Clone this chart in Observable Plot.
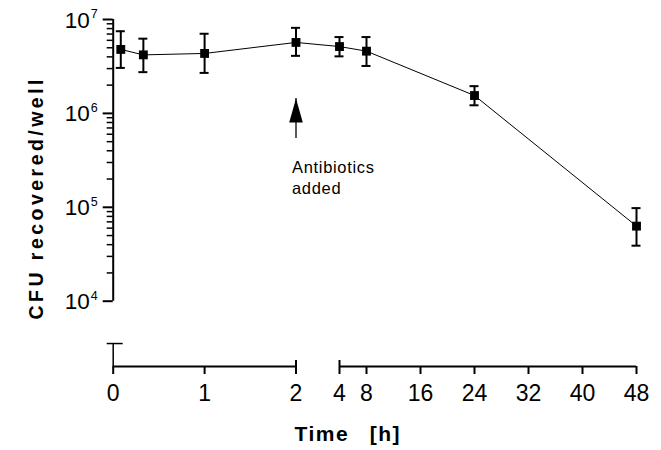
<!DOCTYPE html>
<html>
<head>
<meta charset="utf-8">
<script src="https://cdn.jsdelivr.net/npm/d3@7"></script>
<script src="https://cdn.jsdelivr.net/npm/@observablehq/plot@0.6"></script>
<style>
  html, body { margin: 0; padding: 0; background: #fff; }
  #chart svg { display: block; }
</style>
</head>
<body>
<div id="chart"></div>
<script>
// ---- data ----
const times   = [0.083, 0.33, 1, 2, 4, 8, 24, 48];            // h
const cfu     = [4.8e6, 4.2e6, 4.35e6, 5.7e6, 5.15e6, 4.6e6, 1.55e6, 6.3e4];
const cfuHigh = [7.5e6, 6.25e6, 7.05e6, 8.15e6, 6.5e6, 6.5e6, 1.95e6, 9.8e4];
const cfuLow  = [3.05e6, 2.75e6, 2.7e6, 4.1e6, 4.05e6, 3.2e6, 1.22e6, 3.9e4];

const xTicks     = [0, 1, 2, 4, 8, 16, 24, 32, 40, 48];
const xTickText  = ["0", "1", "2", "4", "8", "16", "24", "32", "40", "48"];
const xBreakEnds = [2, 4];
const xSegments  = [[0, 2], [4, 48]];

const yMajor     = [1e4, 1e5, 1e6, 1e7];
const yExponents = ["4", "5", "6", "7"];
const yMinorMult = [2, 3, 4, 5, 6, 7, 8, 9];
const yDecades   = [1e4, 1e5, 1e6];

const yFloor   = 2016;   // level of the x axis (below the broken y axis)
const yStubTop = 3540;   // top of the lower y-axis stub

const noteX = 2, noteTip = 1.44e6, noteTail = 5.4e5;
const noteText = "Antibiotics\nadded";
const xTitle = "Time\u00a0\u00a0\u2009[h]";
const yTitle = "CFU recovered/well";

// ---- tables built from the arrays ----
const data = times.map((t, i) => ({t, cfu: cfu[i], hi: cfuHigh[i], lo: cfuLow[i]}));
const yMinor = yDecades.flatMap(d => yMinorMult.map(m => d * m));
const note = [{x: noteX, tip: noteTip, tail: noteTail, label: noteText}];

const arrowHead = {
  draw(ctx) {
    ctx.moveTo(0, 0);
    ctx.lineTo(6.8, 24);
    ctx.lineTo(-6.8, 24);
    ctx.closePath();
  }
};

const font = "'Liberation Sans', Arial, Helvetica, sans-serif";

const chart = Plot.plot({
  width: 661,
  height: 450,
  marginTop: 19,
  marginBottom: 84,
  marginLeft: 113,
  marginRight: 25,
  style: {fontFamily: font, color: "#000", background: "#fff"},
  x: {type: "linear", domain: [0, 2, 4, 48], range: [112.7, 295.5, 339, 636], axis: null},
  y: {type: "log", domain: [yFloor, 1e7], axis: null},
  marks: [
    // y axis (upper part)
    Plot.ruleX([0], {x: d => d, y1: 1e4, y2: 1e7, stroke: "#000", strokeWidth: 2}),
    Plot.ruleY(yMajor, {y: d => d, x1: 0, x2: 0, insetLeft: -10, stroke: "#000", strokeWidth: 2}),
    Plot.ruleY(yMinor, {y: d => d, x1: 0, x2: 0, insetLeft: -6, stroke: "#000", strokeWidth: 1.5}),
    Plot.text(yMajor, {x: 0, y: d => d, text: () => "10", textAnchor: "end", lineAnchor: "bottom",
      dx: -23.5, dy: 8, fontSize: 22.5, fill: "#000"}),
    Plot.text(yMajor, {x: 0, y: d => d, text: (d, i) => yExponents[i], textAnchor: "start", lineAnchor: "bottom",
      dx: -22.5, dy: -1.5, fontSize: 12.5, fill: "#000"}),
    // y axis lower stub
    Plot.ruleX([0], {x: d => d, y1: yFloor, y2: yStubTop, stroke: "#000", strokeWidth: 1.5}),
    Plot.ruleY([yStubTop], {y: d => d, x1: 0, x2: 0, insetLeft: -6, insetRight: -10, stroke: "#000", strokeWidth: 1.5}),
    // x axis (broken)
    Plot.ruleY(xSegments, {y: yFloor, x1: d => d[0], x2: d => d[1], stroke: "#000", strokeWidth: 2}),
    Plot.ruleX(xTicks, {x: d => d, y1: yFloor, y2: yFloor, insetBottom: -8, stroke: "#000", strokeWidth: 2}),
    Plot.ruleX(xBreakEnds, {x: d => d, y1: yFloor, y2: yFloor, insetTop: -6, stroke: "#000", strokeWidth: 2}),
    Plot.text(xTicks, {x: d => d, y: yFloor, text: (d, i) => xTickText[i], lineAnchor: "bottom",
      dy: 34, fontSize: 23, fill: "#000"}),
    // data
    Plot.line(data, {x: "t", y: "cfu", stroke: "#000", strokeWidth: 1}),
    Plot.ruleX(data, {x: "t", y1: "lo", y2: "hi", stroke: "#000", strokeWidth: 2}),
    Plot.ruleY(data, {y: "hi", x1: "t", x2: "t", insetLeft: -4.5, insetRight: -4.5, stroke: "#000", strokeWidth: 2}),
    Plot.ruleY(data, {y: "lo", x1: "t", x2: "t", insetLeft: -4.5, insetRight: -4.5, stroke: "#000", strokeWidth: 2}),
    Plot.dot(data, {x: "t", y: "cfu", symbol: "square", r: 5, fill: "#000", stroke: null}),
    // annotation
    Plot.ruleX(note, {x: "x", y1: "tail", y2: "tip", stroke: "#000", strokeWidth: 1.3}),
    Plot.dot(note, {x: "x", y: "tip", symbol: arrowHead, r: 5, fill: "#000", stroke: null}),
    Plot.text(note, {x: "x", y: "tail", text: "label", textAnchor: "start", lineAnchor: "top",
      dx: -4, dy: 20, fontSize: 16.5, lineHeight: 1.27, fill: "#000"}),
    // axis titles
    Plot.text([xTitle], {text: d => d, frameAnchor: "bottom-left", textAnchor: "start", lineAnchor: "bottom",
      dx: 294 - 113, dy: 74, fontSize: 21, fontWeight: "bold", fill: "#000"}),
    Plot.text([yTitle], {text: d => d, frameAnchor: "left", rotate: -90, textAnchor: "start", lineAnchor: "middle",
      dx: 35.8 - 113, dy: 319 - 192.5, fontSize: 19.5, fontWeight: "bold", fill: "#000"})
  ]
});

document.getElementById("chart").appendChild(chart);

// fit the letter spacing of the titles to the lettering extents of the reference
const fits = [[yTitle, 240], [xTitle, 105], ["Antibiotics", 82]];
d3.select(chart).selectAll("text").each(function() {
  const s = this.textContent;
  for (const [key, target] of fits) {
    if (!s.startsWith(key)) continue;
    const node = this.querySelector("tspan") && key === "Antibiotics" ? this.querySelector("tspan") : this;
    this.style.letterSpacing = "0px";
    const w = node.getBBox().width;
    const n = key.length;
    const ls = Math.max(0, (target - w) / (n - 1));
    this.style.letterSpacing = ls.toFixed(2) + "px";
  }
});
</script>
</body>
</html>
